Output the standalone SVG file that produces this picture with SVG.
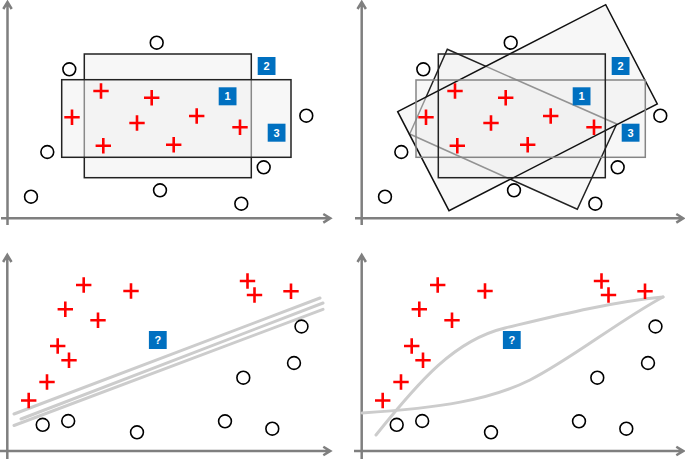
<svg xmlns="http://www.w3.org/2000/svg" width="685" height="459" viewBox="0 0 685 459">
<style>
.axis{stroke:#7f7f7f;stroke-width:2.5;fill:none;stroke-linecap:butt}
.plus{stroke:#ff0000;stroke-width:2.6;fill:none}
.pt{stroke:#000;stroke-width:1.6;fill:#fff}
.fillbox{fill:#f0f0f0;fill-opacity:0.5;stroke:none}
.box{fill:#f0f0f0;fill-opacity:0.5;stroke:#222;stroke-width:1.5}
.edge{fill:none;stroke:#222;stroke-width:1.5}
.edgeg{fill:none;stroke:#858585;stroke-width:1.5}
.lbl text{fill:#fff;font-family:'Liberation Sans',Arial,sans-serif;font-weight:bold;font-size:11px;text-anchor:middle}
.sep{stroke:#cccccc;stroke-width:3;fill:none;stroke-linecap:round}
</style>
<defs>
<path id="p" d="M-7.7,0H7.7M0,-7.7V7.7" class="plus"/>
<circle id="o" r="6.4" class="pt"/>
<rect id="lb" x="-8.9" y="-9" width="17.8" height="18" fill="#0070c0"/>
</defs>

<!-- Panel 1: top-left -->
<g id="panel1">
  <g id="p1-axes">
    <path class="axis" d="M7.5,225V2.5M3.3,9L7.5,2L11.7,9"/>
    <path class="axis" d="M1,218.3H330M323.3,214L330.3,218.3L323.3,222.6"/>
  </g>
  <g id="p1-box2"><rect class="box" x="84.3" y="54" width="167" height="123.7"/></g>
  <g id="p1-box3"><rect class="box" x="61.7" y="79.7" width="229.3" height="77.6"/></g>
  <g id="p1-plus">
    <use href="#p" x="101" y="91"/>
    <use href="#p" x="151.7" y="97.7"/>
    <use href="#p" x="72" y="117.3"/>
    <use href="#p" x="137" y="123"/>
    <use href="#p" x="196.7" y="116"/>
    <use href="#p" x="240" y="127.3"/>
    <use href="#p" x="103.3" y="145.7"/>
    <use href="#p" x="173.7" y="144.7"/>
  </g>
  <g id="p1-circles">
    <use href="#o" x="156.7" y="42.7"/>
    <use href="#o" x="69.3" y="69.3"/>
    <use href="#o" x="306.3" y="115.7"/>
    <use href="#o" x="47.3" y="152"/>
    <use href="#o" x="263.7" y="167.3"/>
    <use href="#o" x="160" y="190.3"/>
    <use href="#o" x="31" y="196.7"/>
    <use href="#o" x="241.3" y="203.7"/>
  </g>
  <g id="p1-l1" class="lbl" transform="translate(227.6,96.3)"><use href="#lb"/><text y="4">1</text></g>
  <g id="p1-l2" class="lbl" transform="translate(266.6,66)"><use href="#lb"/><text y="4">2</text></g>
  <g id="p1-l3" class="lbl" transform="translate(276.6,132.7)"><use href="#lb"/><text y="4">3</text></g>
</g>

<!-- Panel 2: top-right -->
<g id="panel2">
  <g id="p2-axes">
    <path class="axis" d="M361.7,225V2.5M357.5,9L361.7,2L365.9,9"/>
    <path class="axis" d="M355,218.3H683M676.3,214L683.3,218.3L676.3,222.6"/>
  </g>
  <g id="p2-box3-fill"><rect class="fillbox" x="416" y="80" width="229.3" height="77.3"/></g>
  <g id="p2-box2-fill"><rect class="fillbox" x="438.3" y="54" width="167" height="123.7"/></g>
  <g id="p2-boxB"><polygon points="447.3,49.3 616.7,124 577.3,209.3 409.7,134" style="fill:#f2f2f2;fill-opacity:0.5;stroke:#222;stroke-width:1.5"/></g>
  <g id="p2-boxA"><polygon points="397.7,111.7 605.7,4.7 657.3,104 449,210.7" style="fill:#f0f0f0;fill-opacity:0.55;stroke:#111;stroke-width:1.5"/></g>
  <g id="p2-box3"><rect class="edgeg" x="416" y="80" width="229.3" height="77.3"/></g>
  <g id="p2-box2"><rect class="edge" x="438.3" y="54" width="167" height="123.7"/></g>
  <g id="p2-plus">
    <use href="#p" x="455" y="91"/>
    <use href="#p" x="505.7" y="97.7"/>
    <use href="#p" x="426" y="117.3"/>
    <use href="#p" x="491" y="123"/>
    <use href="#p" x="550.7" y="116"/>
    <use href="#p" x="594" y="127.3"/>
    <use href="#p" x="457.3" y="145.7"/>
    <use href="#p" x="527.7" y="144.7"/>
  </g>
  <g id="p2-circles">
    <use href="#o" x="510.7" y="42.7"/>
    <use href="#o" x="423.3" y="69.3"/>
    <use href="#o" x="660.3" y="115.7"/>
    <use href="#o" x="401.3" y="152"/>
    <use href="#o" x="617.7" y="167.3"/>
    <use href="#o" x="514" y="190.3"/>
    <use href="#o" x="385" y="196.7"/>
    <use href="#o" x="595.3" y="203.7"/>
  </g>
  <g id="p2-l1" class="lbl" transform="translate(581.6,96.3)"><use href="#lb"/><text y="4">1</text></g>
  <g id="p2-l2" class="lbl" transform="translate(620.6,66)"><use href="#lb"/><text y="4">2</text></g>
  <g id="p2-l3" class="lbl" transform="translate(630.6,132.7)"><use href="#lb"/><text y="4">3</text></g>
</g>

<!-- Panel 3: bottom-left -->
<g id="panel3">
  <g id="p3-axes">
    <path class="axis" d="M7.3,459V255.5M3.1,262L7.3,255L11.5,262"/>
    <path class="axis" d="M0,451H330M323.3,446.7L330.3,451L323.3,455.3"/>
  </g>
  <g id="p3-lines">
    <line class="sep" x1="14" y1="414" x2="320" y2="298"/>
    <line class="sep" x1="21" y1="419" x2="323" y2="303"/>
    <line class="sep" x1="14" y1="425.5" x2="323" y2="309.3"/>
  </g>
  <g id="p3-plus">
    <use href="#p" x="83.7" y="285"/>
    <use href="#p" x="131" y="291"/>
    <use href="#p" x="247.5" y="281"/>
    <use href="#p" x="254.5" y="295"/>
    <use href="#p" x="291" y="291.3"/>
    <use href="#p" x="65.3" y="309.3"/>
    <use href="#p" x="98" y="320.3"/>
    <use href="#p" x="57.7" y="346"/>
    <use href="#p" x="69" y="360.3"/>
    <use href="#p" x="47" y="382"/>
    <use href="#p" x="28.7" y="400.5"/>
  </g>
  <g id="p3-circles">
    <use href="#o" x="301.5" y="326.5"/>
    <use href="#o" x="294" y="363"/>
    <use href="#o" x="243.3" y="377.7"/>
    <use href="#o" x="42.7" y="424.8"/>
    <use href="#o" x="68.2" y="421"/>
    <use href="#o" x="137" y="432.3"/>
    <use href="#o" x="225" y="421.3"/>
    <use href="#o" x="272.3" y="428.7"/>
  </g>
  <g id="p3-q" class="lbl" transform="translate(157.8,340)"><use href="#lb"/><text y="4">?</text></g>
</g>

<!-- Panel 4: bottom-right -->
<g id="panel4">
  <g id="p4-axes">
    <path class="axis" d="M361.7,459V255.5M357.5,262L361.7,255L365.9,262"/>
    <path class="axis" d="M354,451H683M676.3,446.7L683.3,451L676.3,455.3"/>
  </g>
  <g id="p4-curves">
    <path class="sep" d="M376,435C420,380 455,340 505,328S610,302 663,297"/>
    <path class="sep" d="M362,413C440,408 490,400 530,380S620,320 663,297"/>
  </g>
  <g id="p4-plus">
    <use href="#p" x="437.7" y="285"/>
    <use href="#p" x="485" y="291"/>
    <use href="#p" x="601.5" y="281"/>
    <use href="#p" x="608.5" y="295"/>
    <use href="#p" x="645" y="291.3"/>
    <use href="#p" x="419.3" y="309.3"/>
    <use href="#p" x="452" y="320.3"/>
    <use href="#p" x="411.7" y="346"/>
    <use href="#p" x="423" y="360.3"/>
    <use href="#p" x="401" y="382"/>
    <use href="#p" x="382.7" y="400.5"/>
  </g>
  <g id="p4-circles">
    <use href="#o" x="655.5" y="326.5"/>
    <use href="#o" x="648" y="363"/>
    <use href="#o" x="597.3" y="377.7"/>
    <use href="#o" x="396.7" y="424.8"/>
    <use href="#o" x="422.2" y="421"/>
    <use href="#o" x="491" y="432.3"/>
    <use href="#o" x="579" y="421.3"/>
    <use href="#o" x="626.3" y="428.7"/>
  </g>
  <g id="p4-q" class="lbl" transform="translate(511.8,340)"><use href="#lb"/><text y="4">?</text></g>
</g>
</svg>
